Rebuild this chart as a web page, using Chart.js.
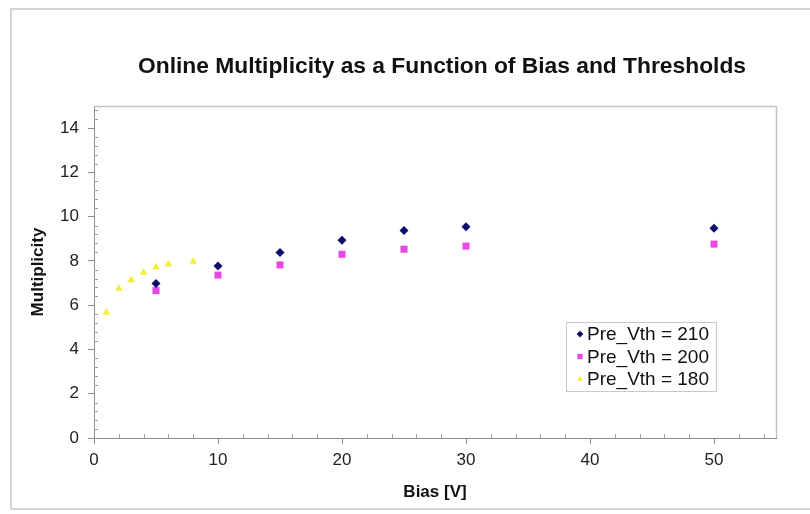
<!DOCTYPE html>
<html>
<head>
<meta charset="utf-8">
<script src="https://cdn.jsdelivr.net/npm/chart.js@4/dist/chart.umd.min.js"></script>
<style>
  html, body { margin: 0; padding: 0; background: #fff; }
  #wrap { position: relative; width: 810px; height: 514px; overflow: hidden; }
  #frame { position: absolute; left: 10px; top: 8px; width: 820px; height: 502px; border: 2px solid #d4d4d4; box-sizing: border-box; }
  #chart { position: absolute; left: 0; top: 0; }
</style>
</head>
<body>
<div id="wrap">
  <div id="frame"></div>
  <canvas id="chart" width="810" height="514"></canvas>
</div>
<script>
// bias settings (V) and online multiplicity per threshold
const biasHigh = [5, 10, 15, 20, 25, 30, 50];
const vth210 = [6.98, 7.77, 8.38, 8.93, 9.37, 9.55, 9.48];
const vth200 = [6.66, 7.36, 7.82, 8.3, 8.53, 8.67, 8.76];
const biasLow = [1, 2, 3, 4, 5, 6, 8];
const vth180 = [5.67, 6.76, 7.14, 7.48, 7.71, 7.85, 7.98];

const seriesNames = ["Pre_Vth = 210", "Pre_Vth = 200", "Pre_Vth = 180"];
const xTicks = [0, 10, 20, 30, 40, 50];
const yTicks = [0, 2, 4, 6, 8, 10, 12, 14];
const chartTitle = "Online Multiplicity as a Function of Bias and Thresholds";

const FONT = "'Liberation Sans', Arial, sans-serif";

function toPoints(xs, ys) {
    return xs.map((x, i) => ({ x: x, y: ys[i] }));
}

// title centred over the plot rather than the whole canvas
const plotTitle = {
    id: "plotTitle",
    afterDraw(chart) {
        const ctx = chart.ctx;
        const a = chart.chartArea;
        ctx.save();
        ctx.font = "bold 22.8px " + FONT;
        ctx.fillStyle = "#111";
        ctx.textAlign = "center";
        ctx.textBaseline = "middle";
        ctx.fillText(chartTitle, (a.left + a.right) / 2 + 7, 67);
        ctx.restore();
    }
};

// light frame on top/right of the plot plus small inside minor ticks
const plotFrame = {
    id: "plotFrame",
    afterDraw(chart) {
        const ctx = chart.ctx;
        const a = chart.chartArea;
        const xs = chart.scales.x, ys = chart.scales.y;
        ctx.save();
        ctx.strokeStyle = "#c4c4c4";
        ctx.lineWidth = 1.5;
        ctx.beginPath();
        ctx.moveTo(a.left, a.top + 0.5);
        ctx.lineTo(a.right + 0.5, a.top + 0.5);
        ctx.lineTo(a.right + 0.5, a.bottom);
        ctx.stroke();

        ctx.strokeStyle = "#a0a0a0";
        ctx.lineWidth = 1;
        ctx.beginPath();
        for (let v = 2; v < xs.max; v += 2) {
            if (v % 10 === 0) continue;
            const px = Math.round(xs.getPixelForValue(v)) + 0.5;
            ctx.moveTo(px, ys.bottom);
            ctx.lineTo(px, ys.bottom - 4);
        }
        for (let k = 1; k * 0.4 < ys.max; k++) {
            if (k % 5 === 0) continue;
            const py = Math.round(ys.getPixelForValue(k * 0.4)) + 0.5;
            ctx.moveTo(xs.left, py);
            ctx.lineTo(xs.left + 4, py);
        }
        ctx.stroke();
        ctx.restore();
    }
};

// boxed legend sitting inside the plot, lower right
const boxLegend = {
    id: "boxLegend",
    afterDraw(chart) {
        const ctx = chart.ctx;
        const left = 566, top = 322, w = 150, h = 69, rowH = 22.5;
        ctx.save();
        ctx.fillStyle = "#fff";
        ctx.fillRect(left, top, w, h);
        ctx.strokeStyle = "#c8c8c8";
        ctx.lineWidth = 1;
        ctx.strokeRect(left + 0.5, top + 0.5, w, h);
        ctx.font = "19px " + FONT;
        ctx.textBaseline = "middle";
        chart.data.datasets.forEach((ds, i) => {
            const cy = top + 12 + i * rowH;
            ctx.fillStyle = ds.backgroundColor;
            Chart.helpers.drawPoint(ctx, {
                pointStyle: ds.pointStyle,
                radius: ds.pointRadius * 0.75,
                borderWidth: 0
            }, left + 14, cy);
            ctx.fillStyle = "#111";
            ctx.fillText(ds.label, left + 21, cy + 1);
        });
        ctx.restore();
    }
};

new Chart(document.getElementById("chart"), {
    type: "scatter",
    data: {
        datasets: [
            {
                label: seriesNames[0],
                data: toPoints(biasHigh, vth210),
                pointStyle: "rectRot",
                pointRadius: 4.5,
                backgroundColor: "#0d0d6b",
                borderColor: "#0d0d6b",
                borderWidth: 0
            },
            {
                label: seriesNames[1],
                data: toPoints(biasHigh, vth200),
                pointStyle: "rect",
                pointRadius: 5,
                backgroundColor: "#ea48e6",
                borderColor: "#ea48e6",
                borderWidth: 0
            },
            {
                label: seriesNames[2],
                data: toPoints(biasLow, vth180),
                pointStyle: "triangle",
                pointRadius: 4.5,
                backgroundColor: "#f2ee3e",
                borderColor: "#f2ee3e",
                borderWidth: 0
            }
        ]
    },
    options: {
        responsive: false,
        animation: false,
        layout: { padding: { left: 0, right: 34, top: 106, bottom: 0 } },
        plugins: {
            legend: { display: false },
            tooltip: { enabled: false },
            title: { display: false }
        },
        scales: {
            x: {
                type: "linear",
                min: 0,
                max: 55,
                afterBuildTicks: (s) => { s.ticks = xTicks.map(v => ({ value: v })); },
                afterFit: (s) => { s.height = 76; },
                border: { display: true, color: "#8c8c8c", width: 1 },
                grid: { display: true, drawOnChartArea: false, drawTicks: true, tickLength: 6, color: "#8c8c8c" },
                ticks: { color: "#222", font: { family: FONT, size: 17 }, padding: 6, maxRotation: 0 },
                title: {
                    display: true,
                    text: "Bias [V]",
                    color: "#111",
                    font: { family: FONT, size: 17, weight: "bold" },
                    padding: { top: 0, bottom: 11 }
                }
            },
            y: {
                type: "linear",
                min: 0,
                max: 15,
                afterBuildTicks: (s) => { s.ticks = yTicks.map(v => ({ value: v })); },
                afterFit: (s) => { s.width = 94; },
                border: { display: true, color: "#8c8c8c", width: 1 },
                grid: { display: true, drawOnChartArea: false, drawTicks: true, tickLength: 6, color: "#8c8c8c" },
                ticks: { color: "#222", font: { family: FONT, size: 17 }, padding: 9 },
                title: {
                    display: true,
                    text: "Multiplicity",
                    color: "#111",
                    font: { family: FONT, size: 17, weight: "bold" },
                    padding: { top: 28, bottom: 0 }
                }
            }
        }
    },
    plugins: [plotFrame, boxLegend, plotTitle]
});
</script>
</body>
</html>
